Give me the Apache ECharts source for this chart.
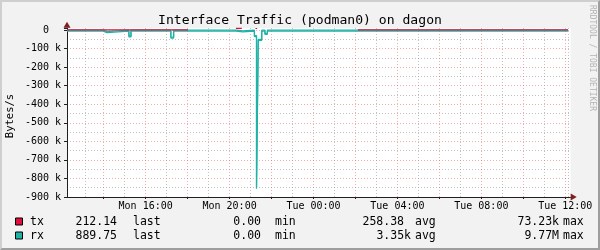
<!DOCTYPE html>
<html><head><meta charset="utf-8">
<script src="https://cdn.jsdelivr.net/npm/echarts@6/dist/echarts.min.js"></script>
<style>
html,body{margin:0;padding:0;background:#f2f2f2;}
#wrap{position:relative;width:600px;height:250px;}
#chart{width:600px;height:250px;}
#frame{position:absolute;left:0;top:0;width:600px;height:250px;box-sizing:border-box;border-top:2px solid #cfcfcf;border-left:2px solid #cfcfcf;border-right:2px solid #9e9e9e;border-bottom:2px solid #9e9e9e;pointer-events:none;}
</style></head>
<body><div id="wrap"><div id="chart"></div><div id="frame"></div></div>
<script>
// ---- data ----
const chartTitle = 'Interface Traffic (podman0) on dagon';
const unitLabel = 'Bytes/s';
const watermark = 'RRDTOOL / TOBI OETIKER';
const xStart = 'Mon 12:15';
const xEnd = 'Tue 12:15';
const dayNames = ['Sun', 'Mon', 'Tue', 'Wed', 'Thu', 'Fri', 'Sat'];

const txTimes  = ['Mon 12:15','Mon 18:01','Mon 18:02','Mon 20:18','Mon 20:35','Mon 20:36','Mon 21:14','Mon 21:19','Mon 21:20','Tue 02:07','Tue 12:08'];
const txValues = [212, 212, null, 9000, 9000, null, 8000, 8000, null, 212, 212];

const rxTimes  = ['Mon 12:15','Mon 13:59','Mon 14:09','Mon 15:12','Mon 15:18','Mon 17:12','Mon 17:20','Mon 19:47','Mon 19:52','Mon 20:18','Mon 20:38','Mon 21:11','Mon 21:17','Mon 21:22','Mon 21:32','Mon 21:41','Mon 21:48','Tue 12:08'];
const rxValues = [-890, -9000, -890, -32000, -890, -38000, -890, -4000, -890, -5000, -890, -30000, -850000, -50000, -890, -18000, -890, -890];

const yMin = -900000;
const yStep = 100000;

const legendNames = ['tx', 'rx'];
const legendColors = ['#e0103c', '#1fb2a6'];
const legendLast = ['212.14', '889.75'];
const legendMin = ['0.00', '0.00'];
const legendAvg = ['258.38', '3.35k'];
const legendMax = ['73.23k', '9.77M'];

// ---- helpers ----
function T(s) {
  const parts = s.split(' ');
  const hm = parts[1].split(':').map(Number);
  const day = 14 + dayNames.indexOf(parts[0]); // Jan 15 2024 is a Monday
  return new Date(2024, 0, day, hm[0], hm[1]).getTime();
}
function pairs(times, vals) { return times.map((t, i) => [T(t), vals[i]]); }

const FONT = 'DejaVu Sans Mono';
const AXIS = '#1f1f1f';
const ARROW = '#801f1f';
const MGRID = 'rgba(222,79,79,0.45)';
const GRID = 'rgba(143,143,143,0.55)';
const yMaxPad = 10800;
const HOUR = 3600 * 1000;

const chart = echarts.init(document.getElementById('chart'), null, {renderer: 'canvas'});

const legendGraphics = [];
legendNames.forEach((n, i) => {
  const cy = 222.5 + i * 14;
  const f = '11.5px "' + FONT + '"';
  legendGraphics.push(
    {type: 'rect', shape: {x: 15.5, y: cy - 4.5, width: 7, height: 7}, style: {fill: legendColors[i], stroke: '#000', lineWidth: 1}},
    {type: 'text', x: 30, y: cy, style: {text: n, font: f, fill: '#000', textAlign: 'left', textVerticalAlign: 'middle'}},
    {type: 'text', x: 117, y: cy, style: {text: legendLast[i], font: f, fill: '#000', textAlign: 'right', textVerticalAlign: 'middle'}},
    {type: 'text', x: 133, y: cy, style: {text: 'last', font: f, fill: '#000', textAlign: 'left', textVerticalAlign: 'middle'}},
    {type: 'text', x: 261, y: cy, style: {text: legendMin[i], font: f, fill: '#000', textAlign: 'right', textVerticalAlign: 'middle'}},
    {type: 'text', x: 275, y: cy, style: {text: 'min', font: f, fill: '#000', textAlign: 'left', textVerticalAlign: 'middle'}},
    {type: 'text', x: /k|M$/.test(legendAvg[i]) ? 411 : 404, y: cy, style: {text: legendAvg[i], font: f, fill: '#000', textAlign: 'right', textVerticalAlign: 'middle'}},
    {type: 'text', x: 415, y: cy, style: {text: 'avg', font: f, fill: '#000', textAlign: 'left', textVerticalAlign: 'middle'}},
    {type: 'text', x: 559, y: cy, style: {text: legendMax[i], font: f, fill: '#000', textAlign: 'right', textVerticalAlign: 'middle'}},
    {type: 'text', x: 563, y: cy, style: {text: 'max', font: f, fill: '#000', textAlign: 'left', textVerticalAlign: 'middle'}}
  );
});

const xAxisBase = {
  type: 'time', min: T(xStart), max: T(xEnd),
  minInterval: 2.5 * HOUR, maxInterval: 3 * HOUR
};
const yAxisBase = {type: 'value', min: yMin, max: yMaxPad, interval: yStep};

chart.setOption({
  animation: false,
  backgroundColor: 'transparent',
  title: {
    text: chartTitle, left: 'center', top: 9,
    textStyle: {fontFamily: FONT, fontSize: 13.1, fontWeight: 'normal', color: '#000'}
  },
  grid: {left: 67, right: 29.5, top: 28, bottom: 53, show: true, backgroundColor: '#fff', borderWidth: 0},
  xAxis: [
    Object.assign({}, xAxisBase, {
      position: 'bottom',
      axisLine: {show: true, onZero: false, lineStyle: {color: AXIS, width: 1}},
      axisTick: {show: true, length: 2, lineStyle: {color: AXIS}},
      minorTick: {show: false, splitNumber: 2},
      axisLabel: {
        show: true, margin: 4, color: '#000', fontFamily: FONT, fontSize: 10,
        hideOverlap: false, showMinLabel: false, showMaxLabel: false,
        formatter: function (v) {
          const d = new Date(v);
          if (d.getHours() % 4 !== 0 || d.getMinutes() !== 0) return '';
          return dayNames[d.getDay()] + ' ' + String(d.getHours()).padStart(2, '0') + ':00';
        }
      },
      splitLine: {show: true, showMinLine: false, showMaxLine: false, lineStyle: {color: MGRID, type: [1, 2], width: 1}},
      minorSplitLine: {show: true, lineStyle: {color: GRID, type: [1, 2], width: 1}}
    }),
    Object.assign({}, xAxisBase, {
      position: 'bottom',
      axisLine: {show: true, onZero: false, symbol: ['none', 'triangle'], symbolSize: [7, 6], symbolOffset: [0, 3.2], lineStyle: {color: ARROW, width: 0}},
      axisTick: {show: false}, axisLabel: {show: false}, splitLine: {show: false}
    })
  ],
  yAxis: [
    Object.assign({}, yAxisBase, {
      axisLine: {show: true, onZero: false, lineStyle: {color: AXIS, width: 1}},
      axisTick: {show: true, length: 3, lineStyle: {color: AXIS}},
      minorTick: {show: false, splitNumber: 2},
      axisLabel: {
        show: true, margin: 6, color: '#000', fontFamily: FONT, fontSize: 10,
        formatter: function (v) {
          if (Math.round(v) % yStep !== 0) return '';
          return v === 0 ? '0  ' : (v / 1000) + ' k';
        }
      },
      splitLine: {show: true, showMinLine: false, showMaxLine: false, lineStyle: {color: MGRID, type: [1, 2], width: 1}},
      minorSplitLine: {show: true, lineStyle: {color: GRID, type: [1, 2], width: 1}}
    }),
    Object.assign({}, yAxisBase, {
      position: 'left',
      axisLine: {show: true, onZero: false, symbol: ['none', 'triangle'], symbolSize: [7, 6], symbolOffset: [0, 3.3], lineStyle: {color: ARROW, width: 0}},
      axisTick: {show: false}, axisLabel: {show: false}, splitLine: {show: false}
    })
  ],
  series: [
    {
      name: 'rx', type: 'line', step: 'end', xAxisIndex: 0, yAxisIndex: 0,
      data: pairs(rxTimes, rxValues), showSymbol: false, symbol: 'none', clip: false,
      lineStyle: {color: legendColors[1], width: 1.2, shadowColor: legendColors[1], shadowOffsetY: 1, shadowBlur: 0},
      z: 3
    },
    {
      name: 'tx', type: 'line', step: 'end', xAxisIndex: 0, yAxisIndex: 0,
      data: pairs(txTimes, txValues), showSymbol: false, symbol: 'none', clip: false, connectNulls: false,
      lineStyle: {color: legendColors[0], width: 1.2},
      z: 4
    }
  ],
  graphic: [
    {type: 'text', x: 10.5, y: 116, rotation: Math.PI / 2,
     style: {text: unitLabel, font: '10.5px "' + FONT + '"', fill: '#000', textAlign: 'center', textVerticalAlign: 'middle'}},
    {type: 'text', x: 592, y: 58, rotation: -Math.PI / 2,
     style: {text: watermark, font: '8px "' + FONT + '"', fill: '#b4b4b4', textAlign: 'center', textVerticalAlign: 'middle'}}
  ].concat(legendGraphics)
});
</script>
</body></html>
